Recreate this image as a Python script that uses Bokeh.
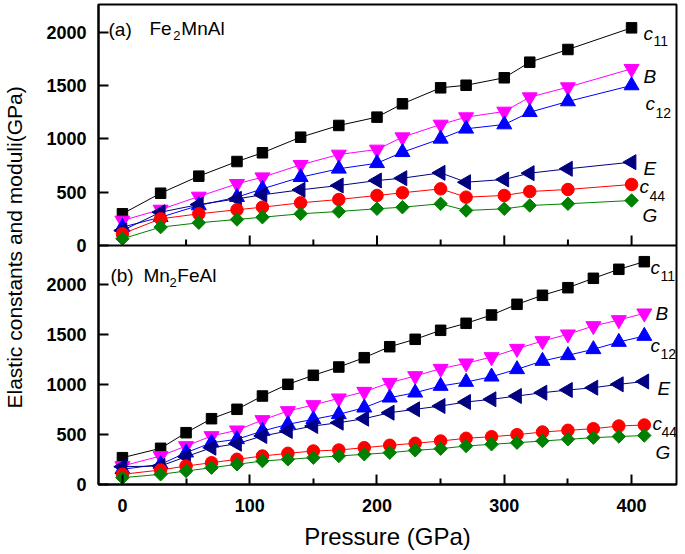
import math
from bokeh.plotting import figure
from bokeh.models import Range1d, Label, Span, FixedTicker, CustomJSTickFormatter
from bokeh.embed import file_html
from bokeh.resources import INLINE

# ---------------- data ----------------
# (a) Fe2MnAl
pressure_a = [0, 30, 60, 90, 110, 140, 170, 200, 220, 250, 270, 300, 320, 350, 400]
c11_a = [297, 490, 650, 787, 869, 1015, 1125, 1203, 1328, 1478, 1502, 1572, 1718, 1837, 2040]
B_a   = [234, 337, 459, 578, 640, 756, 853, 900, 1015, 1134, 1203, 1256, 1390, 1484, 1656]
c12_a = [172, 265, 375, 453, 531, 640, 719, 771, 874, 1000, 1094, 1134, 1249, 1350, 1500]
E_a   = [141, 312, 384, 437, 475, 522, 562, 609, 631, 681, 593, 619, 678, 719, 781]
c44_a = [110, 250, 297, 335, 359, 400, 431, 469, 494, 531, 453, 469, 506, 525, 572]
G_a   = [63, 172, 213, 244, 265, 297, 319, 344, 359, 391, 328, 344, 375, 391, 422]

# (b) Mn2FeAl
pressure_b = [0, 30, 50, 70, 90, 110, 130, 150, 170, 190, 210, 230, 250, 270, 290, 310, 330, 350, 370, 390, 410]
c11_b = [268, 362, 518, 658, 752, 885, 1002, 1092, 1175, 1268, 1378, 1452, 1542, 1612, 1695, 1802, 1892, 1968, 2062, 2152, 2228]
B_b   = [185, 285, 385, 485, 542, 645, 735, 795, 862, 928, 1018, 1085, 1158, 1212, 1275, 1358, 1435, 1502, 1585, 1645, 1712]
c12_b = [152, 202, 318, 418, 452, 535, 602, 652, 702, 768, 868, 918, 985, 1025, 1078, 1152, 1235, 1292, 1352, 1425, 1485]
E_b   = [178, 185, 278, 368, 408, 485, 535, 585, 618, 658, 718, 752, 785, 825, 852, 885, 918, 945, 968, 1002, 1030]
c44_b = [102, 145, 185, 218, 252, 285, 312, 335, 345, 368, 392, 412, 435, 462, 478, 498, 525, 542, 558, 585, 595]
G_b   = [68, 102, 135, 168, 202, 235, 252, 268, 285, 302, 318, 342, 358, 385, 402, 418, 435, 452, 468, 480, 490]

x_ticks = [0, 100, 200, 300, 400]
x_minor_ticks = [50, 150, 250, 350]
y_ticks = [0, 500, 1000, 1500, 2000]

# ---------------- layout ----------------
FONT = "Liberation Sans"
W, H = 681, 552
BL, BR, BT, BB = 97, 5, 4, 68
frame_h = H - BT - BB
page_frame_left, page_frame_bottom = BL, H - BB
x_scale = 1.275            # px per GPa
x_start, x_end = -18.8, 435.3
b_scale = 0.1              # px per unit, bottom panel
t_scale = 0.1067           # px per unit, top panel
t_zero_px = 239            # top-panel zero, px above frame bottom
b_end = frame_h / b_scale
t_start = -t_zero_px / t_scale
t_end = t_start + frame_h / t_scale

p = figure(width=W, height=H, output_backend="svg", toolbar_location=None,
           x_range=Range1d(x_start, x_end), y_range=Range1d(0, b_end),
           min_border_left=BL, min_border_right=BR, min_border_top=BT, min_border_bottom=BB)
p.extra_y_ranges = {"top": Range1d(t_start, t_end)}
p.xgrid.visible = False
p.ygrid.visible = False
p.outline_line_color = "black"
p.outline_line_width = 2
p.background_fill_color = "white"
p.border_fill_color = "white"

# y ticks for both panels on one axis
k = b_scale / t_scale
top_pos = [(v - t_start) * t_scale / b_scale for v in y_ticks]
p.yaxis.ticker = FixedTicker(ticks=y_ticks + top_pos, minor_ticks=[])
p.yaxis.formatter = CustomJSTickFormatter(args=dict(split=(y_ticks[-1] + top_pos[0]) / 2, k=k, off=t_start),
    code="if (tick > split) { return String(Math.round(tick * k + off) + 0); } return String(Math.round(tick));")
p.xaxis.ticker = FixedTicker(ticks=x_ticks, minor_ticks=x_minor_ticks)

for ax in (p.xaxis[0], p.yaxis[0]):
    ax.axis_line_width = 2
    ax.major_tick_in = 10
    ax.major_tick_out = 0
    ax.minor_tick_in = 6
    ax.minor_tick_out = 0
    ax.major_tick_line_width = 2
    ax.minor_tick_line_width = 2
    ax.major_label_text_font = FONT
    ax.major_label_text_font_style = "bold"
    ax.major_label_text_font_size = "18px"
    ax.major_label_text_color = "black"
    ax.axis_label_text_font = FONT
    ax.axis_label_text_font_style = "normal"
    ax.axis_label_text_color = "black"

p.xaxis.axis_label = "Pressure (GPa)"
p.xaxis.axis_label_text_font_size = "24px"
p.xaxis.major_label_standoff = 14
p.xaxis.axis_label_standoff = 8
p.yaxis.axis_label = "Elastic constants and  moduli(GPa)"
p.yaxis.axis_label_text_font_size = "21px"
p.yaxis.major_label_standoff = 12
p.yaxis.axis_label_standoff = 17

# separator between panels and ticks of the top panel's x axis
p.add_layout(Span(location=0, dimension="width", y_range_name="top", line_color="black", line_width=2))
p.segment(x0=x_ticks, x1=x_ticks, y0=[0] * len(x_ticks), y1=[10 / t_scale] * len(x_ticks),
          y_range_name="top", line_color="black", line_width=2)
p.segment(x0=x_minor_ticks, x1=x_minor_ticks, y0=[0] * len(x_minor_ticks), y1=[6 / t_scale] * len(x_minor_ticks),
          y_range_name="top", line_color="black", line_width=2)

styles = [
    ("black", "square", 10.5, 0.0),
    ("#FF00FF", "inverted_triangle", 15, 0.0),
    ("#0000FF", "triangle", 15, 0.0),
    ("#000080", "triangle", 15, math.pi / 2),
    ("#FF0000", "circle", 12.5, 0.0),
    ("#008000", "square", 9.5, math.pi / 4),
]

series_a = [c11_a, B_a, c12_a, E_a, c44_a, G_a]
series_b = [c11_b, B_b, c12_b, E_b, c44_b, G_b]
for ys, (col, mk, sz, ang) in zip(series_a, styles):
    p.line(pressure_a, ys, line_color=col, line_width=1, y_range_name="top")
    p.scatter(pressure_a, ys, marker=mk, size=sz, angle=ang, fill_color=col, line_color=col, y_range_name="top")
for ys, (col, mk, sz, ang) in zip(series_b, styles):
    p.line(pressure_b, ys, line_color=col, line_width=1)
    p.scatter(pressure_b, ys, marker=mk, size=sz, angle=ang, fill_color=col, line_color=col)

# ---------------- text annotations (canvas pixel -> data) ----------------
def gx(px):
    return (px - page_frame_left) / x_scale + x_start

def gyt(py):
    return (page_frame_bottom - t_zero_px - py) / t_scale

def gyb(py):
    return (page_frame_bottom - py) / b_scale

def lab(text, px, py, panel, size, style="normal", align="left"):
    kw = dict(text=text, text_font=FONT, text_font_size=size, text_font_style=style,
              text_baseline="alphabetic", text_align=align, text_color="black")
    if panel == "top":
        p.add_layout(Label(x=gx(px), y=gyt(py), y_range_name="top", **kw))
    else:
        p.add_layout(Label(x=gx(px), y=gyb(py), **kw))

# panel titles
lab("(a)", 107, 29, "top", "19px")
lab("Fe", 148, 28, "top", "19px")
lab("2", 172, 35, "top", "13px")
lab("MnAl", 180, 28, "top", "19px")
lab("(b)", 109, 275, "bot", "19px")
lab("Mn", 142, 275, "bot", "19px")
lab("2", 168, 282, "bot", "13px")
lab("FeAl", 176, 275, "bot", "19px")

# series names, panel (a)
lab("c", 643, 33, "top", "19px", "italic"); lab("11", 653, 40, "top", "14px")
lab("B", 643, 76, "top", "19px", "italic")
lab("c", 645, 103, "top", "19px", "italic"); lab("12", 655, 112, "top", "14px")
lab("E", 643, 168, "top", "19px", "italic")
lab("c", 639, 186, "top", "19px", "italic"); lab("44", 649, 195, "top", "14px")
lab("G", 642, 215, "top", "19px", "italic")
# series names, panel (b)
lab("c", 650, 267, "bot", "19px", "italic"); lab("11", 660, 275, "bot", "14px")
lab("B", 655, 313, "bot", "19px", "italic")
lab("c", 650, 345, "bot", "19px", "italic"); lab("12", 660, 353, "bot", "14px")
lab("E", 657, 388, "bot", "19px", "italic")
lab("c", 652, 423, "bot", "19px", "italic"); lab("44", 661, 431, "bot", "14px")
lab("G", 655, 452, "bot", "19px", "italic")

open("out.html", "w").write(file_html(p, INLINE))
